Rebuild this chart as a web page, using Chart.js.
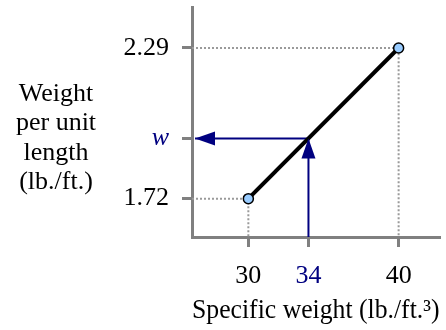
<!DOCTYPE html>
<html>
<head>
<meta charset="utf-8">
<script src="https://cdn.jsdelivr.net/npm/chart.js@4"></script>
<style>
  html, body { margin: 0; padding: 0; background: #fff; }
  #wrap { width: 446px; height: 330px; }
</style>
</head>
<body>
<div id="wrap"><canvas id="chart"></canvas></div>
<script>
// values
const specificWeights = [30, 40];
const weightsPerLength = [1.72, 2.29];
const readX = 34;
const readW = 1.948;
const xTicks = [30, 34, 40];
const yTicks = [1.72, readW, 2.29];
const yTitleLines = ['Weight', 'per unit', 'length', '(lb./ft.)'];
const xTitle = 'Specific weight (lb./ft.\u00B3)';

const xMin = 26.25, xMax = 42.72;
const yMin = 1.575, yMax = 2.445;
const arrowTipX = 26.45;

const NAVY = '#000080';
const AXIS = '#808080';
const FONT = "'Liberation Serif', 'Times New Roman', serif";

const mainLine = specificWeights.map((x, i) => ({x: x, y: weightsPerLength[i]}));

const guides = [];
specificWeights.forEach((x, i) => {
    guides.push({
        data: [{x: xMin, y: weightsPerLength[i]}, {x: x, y: weightsPerLength[i]}, {x: x, y: yMin}],
        borderColor: '#9a9a9a',
        borderWidth: 2,
        borderDash: [2, 2],
        pointRadius: 0,
        fill: false
    });
});

const yTitlePlugin = {
    id: 'yTitle',
    afterDraw(chart) {
        const ctx = chart.ctx;
        ctx.save();
        ctx.font = '26px ' + FONT;
        ctx.fillStyle = '#000';
        ctx.textAlign = 'center';
        ctx.textBaseline = 'alphabetic';
        yTitleLines.forEach((t, i) => ctx.fillText(t, 56, 101 + i * 29.3));
        ctx.restore();
    }
};

const arrowPlugin = {
    id: 'arrowHeads',
    afterDatasetsDraw(chart) {
        const ctx = chart.ctx;
        ctx.save();
        ctx.fillStyle = NAVY;
        chart.data.datasets.forEach((ds, i) => {
            if (!ds.arrow) return;
            const pts = chart.getDatasetMeta(i).data;
            const a = pts[pts.length - 2], b = pts[pts.length - 1];
            const ang = Math.atan2(b.y - a.y, b.x - a.x);
            const len = 20, half = 7;
            ctx.beginPath();
            ctx.moveTo(b.x, b.y);
            ctx.lineTo(b.x - len * Math.cos(ang) + half * Math.sin(ang), b.y - len * Math.sin(ang) - half * Math.cos(ang));
            ctx.lineTo(b.x - len * Math.cos(ang) - half * Math.sin(ang), b.y - len * Math.sin(ang) + half * Math.cos(ang));
            ctx.closePath();
            ctx.fill();
        });
        ctx.restore();
    }
};

new Chart(document.getElementById('chart').getContext('2d'), {
    type: 'line',
    data: {
        datasets: [{
            data: mainLine,
            borderColor: '#000',
            borderWidth: 4,
            pointRadius: 5,
            pointBackgroundColor: '#99ccff',
            pointBorderColor: '#000',
            pointBorderWidth: 1.5,
            fill: false
        }, {
            data: [{x: readX, y: yMin}, {x: readX, y: readW}],
            borderColor: NAVY,
            borderWidth: 2,
            pointRadius: 0,
            arrow: true
        }, {
            data: [{x: readX, y: readW}, {x: arrowTipX, y: readW}],
            borderColor: NAVY,
            borderWidth: 2,
            pointRadius: 0,
            arrow: true
        }, ...guides]
    },
    options: {
        responsive: true,
        maintainAspectRatio: false,
        animation: false,
        layout: { padding: { top: 7, right: 4, left: 0, bottom: 0 } },
        plugins: {
            legend: { display: false },
            tooltip: { enabled: false }
        },
        scales: {
            x: {
                type: 'linear',
                min: xMin,
                max: xMax,
                afterFit: s => { s.height = 93; s.paddingLeft = 0; s.paddingRight = 0; },
                afterBuildTicks: s => { s.ticks = xTicks.map(v => ({value: v})); },
                border: { color: AXIS, width: 3 },
                grid: { drawOnChartArea: false, drawTicks: true, tickLength: 10, lineWidth: 3, color: AXIS },
                ticks: {
                    padding: 14,
                    font: { family: FONT, size: 26 },
                    color: c => c.tick && c.tick.value === readX ? NAVY : '#000',
                    callback: v => String(v)
                },
                title: {
                    display: true,
                    text: xTitle,
                    font: { family: FONT, size: 27 },
                    color: '#000',
                    padding: { top: 0, bottom: 3 }
                }
            },
            y: {
                type: 'linear',
                min: yMin,
                max: yMax,
                afterFit: s => { s.width = 192; s.paddingTop = 0; s.paddingBottom = 0; },
                afterBuildTicks: s => { s.ticks = yTicks.map(v => ({value: v})); },
                border: { color: AXIS, width: 3 },
                grid: { drawOnChartArea: false, drawTicks: true, tickLength: 10, lineWidth: 3, color: AXIS },
                ticks: {
                    padding: 13,
                    font: c => ({
                        family: FONT,
                        size: 26,
                        style: c.tick && c.tick.value === readW ? 'italic' : 'normal'
                    }),
                    color: c => c.tick && c.tick.value === readW ? NAVY : '#000',
                    callback: v => v === readW ? 'w' : v.toFixed(2)
                }
            }
        }
    },
    plugins: [yTitlePlugin, arrowPlugin]
});
</script>
</body>
</html>
